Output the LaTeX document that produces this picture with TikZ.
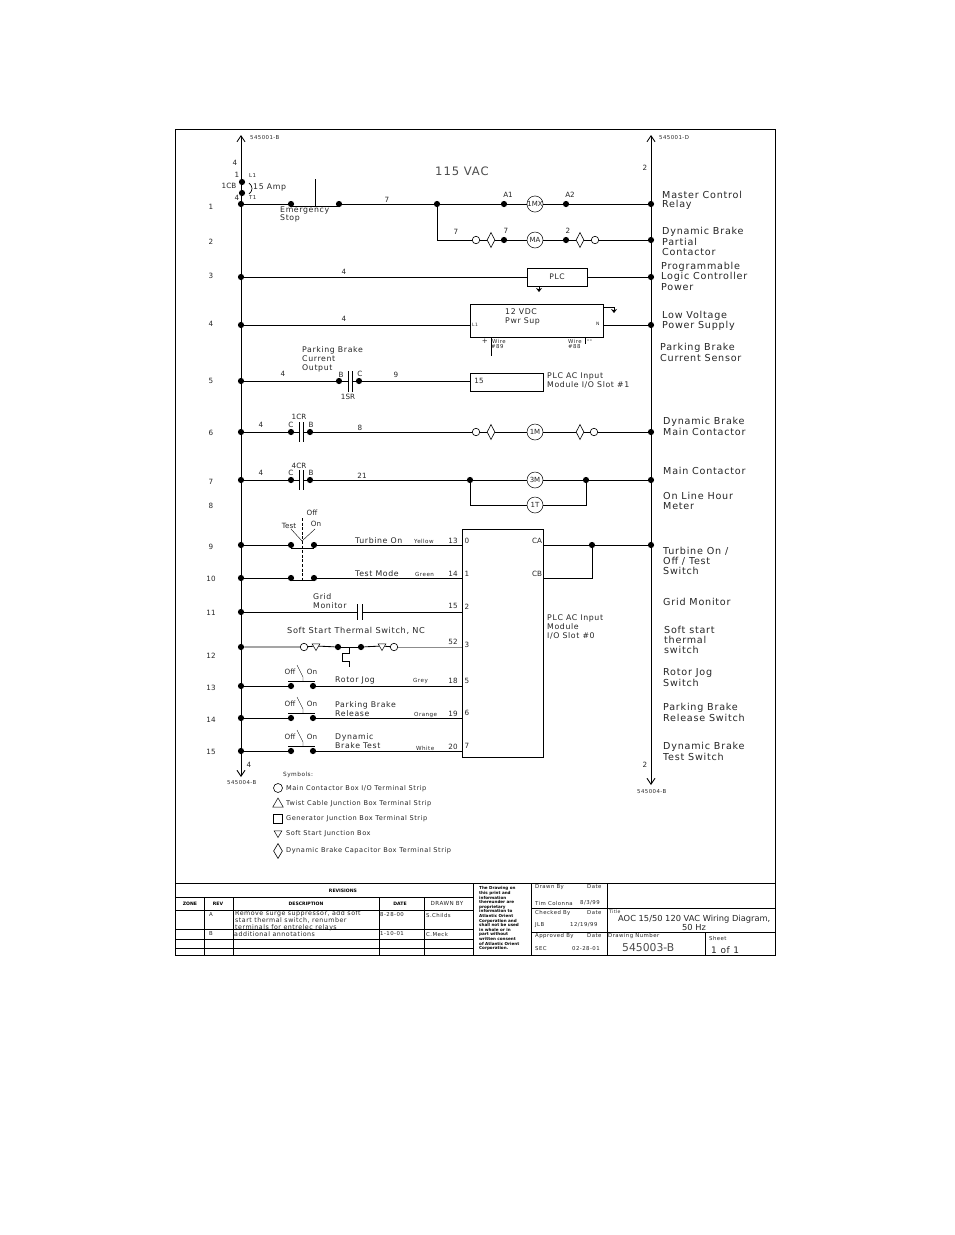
\documentclass[tikz,border=0pt]{standalone}
\usepackage{fontspec}
\setmainfont[LetterSpace=8]{DejaVu Sans}
\newfontfamily\plain{DejaVu Sans}
\usetikzlibrary{shapes.geometric,arrows.meta}
\definecolor{ink}{gray}{0.15}
\tikzset{
 x=1pt,y=-1pt,
 wire/.style={line width=0.85pt,black},
 thin wire/.style={line width=0.7pt,black},
 rail/.style={wire,{Straight Barb[length=6pt,width=8pt]}-{Straight Barb[length=6pt,width=8pt]}},
 dot/.style={circle,fill=black,draw=none,inner sep=0pt,minimum size=6.2pt},
 coil/.style={circle,draw=black,line width=0.5pt,fill=white,inner sep=0pt,minimum size=16pt,font=\plain\fontsize{7}{8}\selectfont,text=ink},
 ring/.style={circle,draw=black,line width=0.6pt,fill=white,inner sep=0pt,minimum size=7.5pt},
 dia/.style={diamond,draw=black,line width=0.6pt,fill=white,inner sep=0pt,minimum width=8pt,minimum height=15pt},
 trid/.style={regular polygon,regular polygon sides=3,shape border rotate=180,draw=black,line width=0.5pt,fill=white,inner sep=0pt,minimum size=9pt},
 box/.style={rectangle,draw=black,line width=0.8pt,fill=white,inner sep=0pt},
 lb/.style={anchor=west,inner sep=0pt,text=ink,font=\fontsize{9.6}{10}\selectfont},
 mid/.style={anchor=west,inner sep=0pt,text=ink,font=\fontsize{7.8}{9}\selectfont},
 ms/.style={anchor=center,inner sep=0pt,text=ink,font=\plain\fontsize{7.2}{8}\selectfont},
 sm/.style={anchor=west,inner sep=0pt,text=ink,font=\fontsize{5.4}{7}\selectfont},
 tn/.style={anchor=west,inner sep=0pt,text=ink,font=\fontsize{5.6}{6}\selectfont},
 sym/.style={anchor=west,inner sep=0pt,text=ink,font=\fontsize{6.6}{7}\selectfont},
 hd/.style={anchor=center,inner sep=0pt,text=black,font=\plain\bfseries\fontsize{4.6}{5}\selectfont},
 note/.style={anchor=north west,inner sep=0pt,align=left,text=black,font=\plain\bfseries\fontsize{4.1}{4.6}\selectfont},
}
\newcommand{\gnd}[1]{\draw[thin wire,-{Stealth[length=4pt,width=6pt]}] (#1) -- ++(0,6);}
\begin{document}
\begin{tikzpicture}
\useasboundingbox (0,0) rectangle (954,1235);
\fill[white] (0,0) rectangle (954,1235);
% frame
\draw[line width=0.8pt] (175.5,129.5) rectangle (775.5,955);
% rails
\coordinate (LT) at (241,135); \coordinate (LB) at (241,777);
\coordinate (RT) at (651,135); \coordinate (RB) at (651,785);
\draw[rail] (LB) -- (LT);
\draw[rail] (RB) -- (RT);
\foreach \n/\y in {1/204,3/277,4/325,5/381,6/432,7/480,9/545,10/578,11/612,12/647,13/686,14/718,15/751}
  \node[dot] (L\n) at (241,\y) {};
\foreach \n/\y in {1/204,2/240,3/277,4/325,6/432,7/480,9/545}
  \node[dot] (R\n) at (651,\y) {};
% rung numbers
\foreach \t/\y in {1/207,2/242,3/276,4/324,5/381,6/433,7/482,8/506,9/547,10/579,11/613,12/656,13/688,14/720,15/752}
  \node[ms] at (211,\y) {\t};
% breaker
\node[dot] (cbA) at (242,182) {};
\node[dot] (cbB) at (242,193) {};
\draw[thin wire] (249,183) .. controls (253,186) and (253,191) .. (249,194);
\node[ms] at (229,186) {1CB};
\node[sm] at (249,176) {L1};
\node[sm] at (249,198) {T1};
\node[ms] at (237,175) {1};
\node[ms] at (237,198) {4};
\node[ms] at (235,163) {4};
\node[ms] at (645,168) {2};
\node[ms] at (645,765) {2};
\node[ms] at (249,765) {4};
\node[mid] at (253,187) {15 Amp};
\node[sm] at (250,138) {545001-B};
\node[sm] at (659,138) {545001-D};
\node[sm] at (227,783) {545004-B};
\node[sm] at (637,792) {545004-B};
\node[lb,font=\fontsize{11.6}{13}\selectfont,text=black!70] at (435,171) {115 VAC};
% rung 1
\node[dot] (es1) at (291,204) {};
\node[dot] (es2) at (339,204) {};
\node[dot] (j1) at (437,204) {};
\node[dot] (a1) at (504,204) {};
\node[coil] (mx) at (535,204) {1MX};
\node[dot] (a2) at (566,204) {};
\coordinate (esT) at (315,179);
\coordinate (esB) at (315,206);
\draw[wire] (L1) -- (es1) (es2) -- (j1) -- (a1) -- (mx) -- (a2) -- (R1);
\draw[wire] (es1 |- esB) -- (es2 |- esB) (esT) -- (esB);
\node[ms] at (387,200) {7};
\node[ms] at (508,195) {A1};
\node[ms] at (570,195) {A2};
\node[mid] at (280,210) {Emergency};
\node[mid] at (280,218) {Stop};
% rung 2
\node[ring] (c2a) at (476,240) {};
\node[dia] (d2a) at (491,240) {};
\node[dot] (b2a) at (504,240) {};
\node[coil] (ma) at (535,240) {MA};
\node[dot] (b2b) at (566,240) {};
\node[dia] (d2b) at (580,240) {};
\node[ring] (c2b) at (595,240) {};
\draw[wire] (j1) |- (c2a);
\draw[wire] (c2a) -- (d2a) -- (b2a) -- (ma) -- (b2b) -- (d2b) -- (c2b) -- (R2);
\node[ms] at (456,232) {7};
\node[ms] at (506,231) {7};
\node[ms] at (568,231) {2};
% rung 3
\node[box,minimum width=60pt,minimum height=18pt,font=\fontsize{7.6}{9}\selectfont,text=ink] (plc) at (557,277) {PLC};
\draw[wire] (L3) -- (plc) (plc) -- (R3);
\coordinate (g3) at (539,286);
\gnd{g3}
\node[ms] at (344,272) {4};
% rung 4
\node[box,minimum width=133pt,minimum height=33pt] (ps) at (536.5,320.5) {};
\draw[wire] (L4) -- (ps.west |- L4);
\draw[wire] (ps.east |- R4) -- (R4);
\coordinate (g4a) at (603,307); \coordinate (g4b) at (614,307);
\draw[thin wire] (g4a) -- (g4b);
\gnd{g4b}
\node[ms] at (344,319) {4};
\node[tn,font=\fontsize{4.5}{5}\selectfont] at (472,325) {L1};
\node[tn,font=\fontsize{4.5}{5}\selectfont] at (596,324) {N};
\node[mid] at (505,312) {12 VDC};
\node[mid] at (505,321) {Pwr Sup};
\coordinate (w1) at (491,337); \coordinate (w1e) at (491,356);
\coordinate (w2) at (585,337); \coordinate (w2e) at (585,344);
\draw[thin wire] (w1) -- (w1e) (w2) -- (w2e);
\node[ms] at (485,341) {+};
\node[ms] at (589.5,341) {--};
\node[sm] at (492,341) {Wire};
\node[sm] at (491,347) {\#89};
\node[sm] at (568,341) {Wire};
\node[sm] at (568,347) {\#88};
% rung 5
\node[dot] (b5) at (339,381) {};
\node[dot] (c5) at (359,381) {};
\coordinate (p5a) at (348,381); \coordinate (p5b) at (352,381);
\node[box,minimum width=73pt,minimum height=18pt] (in15) at (506.5,382) {};
\draw[wire] (L5) -- (b5) -- (p5a) (p5b) -- (c5) -- (in15.west |- c5);
\draw[wire] (348,371) -- (348,392) (352,371) -- (352,392);
\node[ms] at (283,374) {4};
\node[ms] at (396,375) {9};
\node[ms] at (341,375) {B};
\node[ms] at (360,374) {C};
\node[ms] at (348,397) {1SR};
\node[ms] at (479,381) {15};
\node[mid] at (302,350) {Parking Brake};
\node[mid] at (302,359) {Current};
\node[mid] at (302,368) {Output};
\node[mid] at (547,376) {PLC AC Input};
\node[mid] at (547,385) {Module I/O Slot \#1};
% rung 6
\node[dot] (c6) at (291,432) {};
\node[dot] (b6) at (310,432) {};
\coordinate (p6a) at (299,432); \coordinate (p6b) at (303,432);
\node[ring] (r6a) at (476,432) {};
\node[dia] (d6a) at (491,432) {};
\node[coil] (m1) at (535,432) {1M};
\node[dia] (d6b) at (580,432) {};
\node[ring] (r6b) at (594,432) {};
\draw[wire] (L6) -- (c6) -- (p6a) (p6b) -- (b6) -- (r6a) -- (d6a) -- (m1) -- (d6b) -- (r6b) -- (R6);
\draw[wire] (299,422) -- (299,442) (303,422) -- (303,442);
\node[ms] at (261,425) {4};
\node[ms] at (360,428) {8};
\node[ms] at (299,417) {1CR};
\node[ms] at (291,425) {C};
\node[ms] at (311,425) {B};
% rung 7/8
\node[dot] (c7) at (291,480) {};
\node[dot] (b7) at (310,480) {};
\coordinate (p7a) at (299,480); \coordinate (p7b) at (303,480);
\node[dot] (j7a) at (470,480) {};
\node[coil] (m3) at (535,480) {3M};
\node[dot] (j7b) at (586,480) {};
\node[coil] (t1) at (535,505) {1T};
\draw[wire] (L7) -- (c7) -- (p7a) (p7b) -- (b7) -- (j7a) -- (m3) -- (j7b) -- (R7);
\draw[wire] (299,470) -- (299,490) (303,470) -- (303,490);
\draw[wire] (j7a) |- (t1);
\draw[wire] (t1) -| (j7b);
\node[ms] at (261,473) {4};
\node[ms] at (362,476) {21};
\node[ms] at (299,466) {4CR};
\node[ms] at (291,473) {C};
\node[ms] at (311,473) {B};
% module
\node[box,minimum width=81pt,minimum height=228pt] (mod) at (502.5,643) {};
\node[dot] (j9) at (592,545) {};
\draw[wire] (mod.east |- R9) -- (j9) -- (R9);
\coordinate (cb) at (543,578);
\draw[wire] (cb) -| (j9);
\node[ms] at (537,541) {CA};
\node[ms] at (537,574) {CB};
\foreach \t/\y in {0/541,1/574,2/607,3/645,5/681,6/713,7/746}
  \node[ms] at (467,\y) {\t};
\foreach \t/\y in {13/541,14/574,15/606,52/642,18/681,19/714,20/747}
  \node[ms] at (453,\y) {\t};
\node[mid] at (547,618) {PLC AC Input};
\node[mid] at (547,627) {Module};
\node[mid] at (547,636) {I/O Slot \#0};
% rungs 9,10
\node[dot] (s9a) at (291,545) {};
\node[dot] (s9b) at (314,545) {};
\node[dot] (s10a) at (291,578) {};
\node[dot] (s10b) at (314,578) {};
\draw[wire] (L9) -- (s9a) (s9b) -- (mod.west |- s9b);
\draw[wire] (L10) -- (s10a) (s10b) -- (mod.west |- s10b);
\draw[thin wire] (291,548) -- (314,548) (291,580) -- (314,580);
\coordinate (swT) at (302,518); \coordinate (swP) at (302,541); \coordinate (swB) at (302,580);
\draw[thin wire,dash pattern=on 3pt off 1.6pt] (swT) -- (swB);
\draw[line width=0.4pt] (291,529) -- (swP) -- (315,529);
\node[ms] at (312,513) {Off};
\node[ms] at (289,526) {Test};
\node[ms] at (316,524) {On};
\node[mid] at (355,541) {Turbine On};
\node[mid] at (355,574) {Test Mode};
\node[tn] at (414,541) {Yellow};
\node[tn] at (415,574) {Green};
% rung 11
\coordinate (g11a) at (357,612); \coordinate (g11b) at (362,612);
\draw[wire] (L11) -- (g11a) (g11b) -- (mod.west |- g11b);
\draw[wire] (357,604) -- (357,620) (362,604) -- (362,620);
\node[mid] at (313,597) {Grid};
\node[mid] at (313,606) {Monitor};
% rung 12
\node[ring] (r12a) at (304,647) {};
\node[trid] (t12a) at (316,646) {};
\node[dot] (s12a) at (338,647) {};
\node[dot] (s12b) at (361,647) {};
\node[trid] (t12b) at (382,646) {};
\node[ring] (r12b) at (394,647) {};
\draw[wire] (L12) -- (r12a) -- (t12a) -- (s12a) (s12b) -- (t12b) -- (r12b);
\draw[line width=0.7pt,black!45] (r12b) -- (mod.west |- r12b);
\draw[thin wire] (s12a) -- (s12b);
\draw[thin wire] (349,647) -- (349,653) -- (342,653) -- (342,661) -- (349,661) -- (349,667);
\node[mid,font=\fontsize{8.2}{9}\selectfont] at (287,631) {Soft Start Thermal Switch, NC};
% rungs 13-15
\foreach \n/\y in {13/686,14/718,15/751}{
  \node[dot] (s\n a) at (291,\y) {};
  \node[dot] (s\n b) at (313,\y) {};
  \draw[wire] (L\n) -- (s\n a) (s\n b) -- (mod.west |- s\n b);
  \draw[thin wire] (288,\y-5) -- (315,\y-5);
  \draw[line width=0.4pt] (297,\y-21) -- (303,\y-9) -- (303,\y-5);
  \node[ms] at (290,\y-14) {Off};
  \node[ms] at (312,\y-14) {On};
}
\node[mid] at (335,680) {Rotor Jog};
\node[mid] at (335,705) {Parking Brake};
\node[mid] at (335,714) {Release};
\node[mid] at (335,737) {Dynamic};
\node[mid] at (335,746) {Brake Test};
\node[tn] at (413,681) {Grey};
\node[tn] at (414,715) {Orange};
\node[tn] at (416,748) {White};
% right labels
\foreach \x/\y/\t in {662/195/Master Control,662/205/Relay,662/232/Dynamic Brake,662/242/Partial,662/252/Contactor,661/267/Programmable,661/277/Logic Controller,661/287/Power,662/316/Low Voltage,662/326/Power Supply,660/348/Parking Brake,660/358/Current Sensor,663/422/Dynamic Brake,663/432/Main Contactor,663/471/Main Contactor,663/496/On Line Hour,663/506/Meter,663/551/{Turbine On /},663/561/{Off / Test},663/571/Switch,663/602/Grid Monitor,664/630/Soft start,664/640/thermal,664/650/switch,663/673/Rotor Jog,663/683/Switch,663/708/Parking Brake,663/718/Release Switch,663/747/Dynamic Brake,663/757/Test Switch}
  \node[lb] at (\x,\y) {\t};
% symbols
\node[sm,font=\fontsize{5.8}{7}\selectfont] at (283,775) {Symbols:};
\node[ring,minimum size=9pt] (sy1) at (278,788) {};
\node[regular polygon,regular polygon sides=3,draw,line width=0.5pt,inner sep=0pt,minimum size=12pt] (sy2) at (278,804) {};
\node[rectangle,draw,line width=0.6pt,inner sep=0pt,minimum size=9pt] (sy3) at (278,819) {};
\node[trid] (sy4) at (278,833) {};
\node[dia,minimum width=9pt,minimum height=15pt] (sy5) at (278,851) {};
\foreach \y/\t in {789/{Main Contactor Box I/O Terminal Strip},804/Twist Cable Junction Box Terminal Strip,819/Generator Junction Box Terminal Strip,834/Soft Start Junction Box,851/Dynamic Brake Capacitor Box Terminal Strip}
  \node[sym] at (286,\y) {\t};
% title block
\draw[line width=0.8pt] (175.5,883) -- (775.5,883);
\draw[line width=0.6pt] (175.5,897) -- (473,897) (175.5,910) -- (473,910) (175.5,929) -- (473,929) (175.5,939) -- (473,939) (175.5,948) -- (473,948);
\draw[line width=0.6pt] (204,897) -- (204,955) (233,897) -- (233,955) (379,897) -- (379,955) (424,897) -- (424,955);
\draw[line width=0.8pt] (473,883) -- (473,955) (531,883) -- (531,955) (607,883) -- (607,955);
\draw[line width=0.6pt] (531,908) -- (775,908) (531,932) -- (775,932) (705,932) -- (705,955);
\node[hd] at (343,891) {REVISIONS};
\node[hd] at (190,904) {ZONE};
\node[hd] at (218,904) {REV};
\node[hd] at (306,904) {DESCRIPTION};
\node[hd] at (400,904) {DATE};
\node[ms,font=\fontsize{5.6}{6}\selectfont] at (447,903) {DRAWN BY};
\node[sm] at (209,915) {A};
\node[sm] at (209,934) {B};
\node[anchor=north west,inner sep=0pt,align=left,text=ink,font=\fontsize{6.3}{7.2}\selectfont] at (235,910.5) {Remove surge suppressor, add soft\\start thermal switch, renumber\\terminals for entrelec relays};
\node[sm,font=\fontsize{6.3}{7}\selectfont] at (234,934) {additional annotations};
\node[sm] at (380,915) {8-28-00};
\node[sm] at (380,934) {1-10-01};
\node[sm] at (426,915) {S.Childs};
\node[sm] at (426,934) {C.Meck};
\node[note] at (479,886.5) {The Drawing on\\this print and\\information\\thereunder are\\proprietary\\information to\\Atlantic Orient\\Corporation and\\shall not be used\\in whole or in\\part without\\written consent\\of Atlantic Orient\\Corporation.};
\node[sm] at (535,887) {Drawn By};
\node[sm] at (587,887) {Date};
\node[sm] at (535,903) {Tim Colonna};
\node[sm] at (580,903) {8/3/99};
\node[sm] at (535,913) {Checked By};
\node[sm] at (587,913) {Date};
\node[sm] at (535,925) {JLB};
\node[sm] at (570,925) {12/19/99};
\node[sm] at (535,936) {Approved By};
\node[sm] at (587,936) {Date};
\node[sm] at (535,949) {SEC};
\node[sm] at (572,949) {02-28-01};
\node[sm,font=\fontsize{4.6}{5}\selectfont] at (609,911.5) {Title};
\node[lb,font=\plain\fontsize{8.3}{10}\selectfont] at (618,919) {AOC 15/50 120 VAC Wiring Diagram,};
\node[lb,font=\plain\fontsize{8.3}{10}\selectfont] at (682,927.5) {50 Hz};
\node[sm] at (608,936) {Drawing Number};
\node[lb,font=\plain\fontsize{10.8}{13}\selectfont,text=black!70] at (622,947.5) {545003-B};
\node[sm] at (709,938) {Sheet};
\node[lb,font=\fontsize{9}{9}\selectfont] at (711,950) {1 of 1};
\end{tikzpicture}
\end{document}
